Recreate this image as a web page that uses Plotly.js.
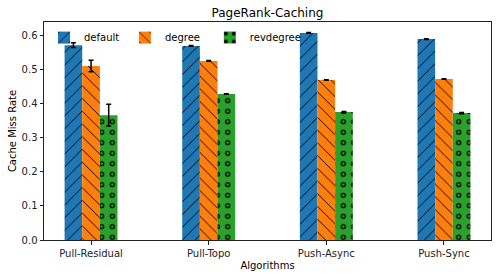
<!DOCTYPE html>
<html>
<head>
<meta charset="utf-8">
<script src="https://cdn.plot.ly/plotly-3.0.1.min.js"></script>
<style>html,body{margin:0;padding:0;background:#fff;}#chart{width:501px;height:278px;}</style>
</head>
<body>
<div id="chart"></div>
<script>
const categories = ["Pull-Residual", "Pull-Topo", "Push-Async", "Push-Sync"];
const seriesNames = ["default", "degree", "revdegree"];
const defaultVals = [0.571, 0.569, 0.607, 0.589];
const defaultErr = [0.007, 0.001, 0.001, 0.001];
const degreeVals = [0.510, 0.525, 0.469, 0.472];
const degreeErr = [0.017, 0.001, 0.001, 0.001];
const revdegreeVals = [0.366, 0.428, 0.375, 0.372];
const revdegreeErr = [0.032, 0.001, 0.002, 0.002];
const yTicks = [0.0, 0.1, 0.2, 0.3, 0.4, 0.5, 0.6];

const errStyle = (arr) => ({type: 'data', array: arr, visible: true, color: '#000', thickness: 1.5, width: 2.5});
const font = 'DejaVu Sans, sans-serif';
const W = 0.15;

const traces = [
  {type: 'bar', name: seriesNames[0], legend: 'legend', x: categories, y: defaultVals, width: W, offset: -1.5 * W,
   marker: {color: '#1f77b4', line: {width: 0}, pattern: {shape: '/', size: 9, solidity: 0.1, fgcolor: '#000', bgcolor: '#1f77b4', fillmode: 'replace'}},
   error_y: errStyle(defaultErr), hoverinfo: 'skip'},
  {type: 'bar', name: seriesNames[1], legend: 'legend2', x: categories, y: degreeVals, width: W, offset: -0.5 * W,
   marker: {color: '#ff7f0e', line: {width: 0}, pattern: {shape: '\\', size: 9, solidity: 0.1, fgcolor: '#000', bgcolor: '#ff7f0e', fillmode: 'replace'}},
   error_y: errStyle(degreeErr), hoverinfo: 'skip'},
  {type: 'bar', name: seriesNames[2], legend: 'legend3', x: categories, y: revdegreeVals, width: W, offset: 0.5 * W,
   marker: {color: '#2ca02c', line: {width: 0}, pattern: {shape: '.', size: 10.5, solidity: 0.2, fgcolor: '#000', bgcolor: '#2ca02c', fillmode: 'replace'}},
   hoverinfo: 'skip'},
  {type: 'bar', name: seriesNames[2] + '-inner', x: categories, y: revdegreeVals, width: W, offset: 0.5 * W, showlegend: false,
   marker: {color: 'rgba(0,0,0,0)', line: {width: 0}, pattern: {shape: '.', size: 10.5, solidity: 0.055, fgcolor: '#2ca02c', bgcolor: 'rgba(0,0,0,0)', fillmode: 'replace'}},
   error_y: errStyle(revdegreeErr), hoverinfo: 'skip'}
];

const legendStyle = (x) => ({
  orientation: 'h', x: x, y: 0.995, xanchor: 'left', yanchor: 'top',
  bgcolor: 'rgba(255,255,255,0)', borderwidth: 0,
  font: {family: font, size: 10, color: '#000'},
  itemwidth: 30
});

const layout = {
  width: 501, height: 278,
  margin: {l: 44, r: 10, t: 22, b: 38},
  paper_bgcolor: '#fff', plot_bgcolor: '#fff',
  font: {family: font, size: 10, color: '#000'},
  title: {text: 'PageRank-Caching', font: {family: font, size: 12, color: '#000'}, x: 0.5, xref: 'paper', y: 0.955, yref: 'container', yanchor: 'middle'},
  barmode: 'overlay',
  xaxis: {
    type: 'category', range: [-0.4, 3.4], showgrid: false, zeroline: false,
    showline: true, mirror: true, linecolor: '#222', linewidth: 1,
    ticks: 'outside', ticklen: 3.5, tickcolor: '#222', tickwidth: 1,
    tickfont: {family: font, size: 10, color: '#222'},
    title: {text: 'Algorithms', font: {family: font, size: 10, color: '#000'}, standoff: 4}
  },
  yaxis: {
    range: [0, 0.639], tickvals: yTicks, tickformat: '.1f', showgrid: false, zeroline: false,
    showline: true, mirror: true, linecolor: '#222', linewidth: 1,
    ticks: 'outside', ticklen: 3.5, tickcolor: '#222', tickwidth: 1,
    tickfont: {family: font, size: 10, color: '#222'},
    title: {text: 'Cache Miss Rate', font: {family: font, size: 10, color: '#000'}, standoff: 3}
  },
  legend: legendStyle(0),
  legend2: legendStyle(0.181),
  legend3: legendStyle(0.371),
  showlegend: true
};

Plotly.newPlot('chart', traces, layout, {displayModeBar: false, staticPlot: true});
</script>
</body>
</html>
